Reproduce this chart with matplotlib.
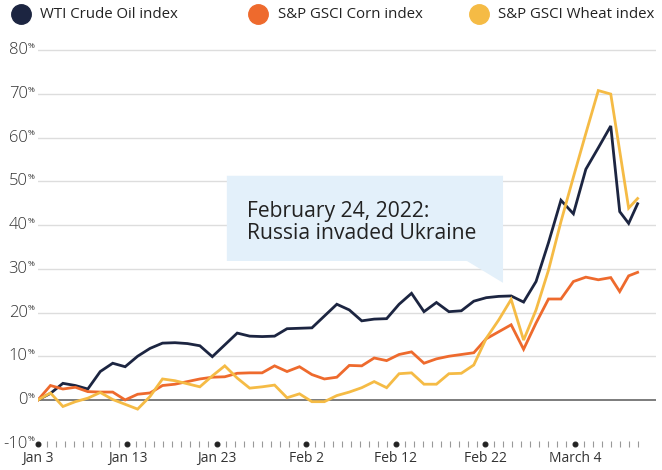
import matplotlib
matplotlib.use("Agg")
import matplotlib.pyplot as plt
import numpy as np
from matplotlib.lines import Line2D
from matplotlib.patches import Polygon
from matplotlib.ticker import FixedLocator

plt.rcParams['font.family'] = ['Open Sans', 'DejaVu Sans']

# change since Jan 3, 2022, in percent, one value per session (50 sessions)
oil = [0, 1.5, 3.8, 3.3, 2.5, 6.5, 8.4, 7.6, 10.0, 11.8,
       13.0, 13.1, 12.9, 12.4, 9.9, 12.6, 15.3, 14.6, 14.5, 14.6,
       16.3, 16.4, 16.5, 19.2, 21.9, 20.6, 18.1, 18.5, 18.6, 21.9,
       24.4, 20.2, 22.3, 20.2, 20.4, 22.6, 23.4, 23.7, 23.8, 22.4,
       27.1, 36.0, 45.7, 42.6, 52.8, 57.7, 62.7, 43.1, 40.4, 44.9]
corn = [0, 3.3, 2.5, 2.9, 1.9, 1.8, 1.8, 0.0, 1.3, 1.6,
        3.3, 3.6, 4.2, 4.8, 5.2, 5.3, 6.1, 6.2, 6.2, 7.8,
        6.5, 7.6, 5.8, 4.8, 5.2, 7.9, 7.8, 9.6, 9.0, 10.4,
        11.0, 8.4, 9.4, 10.0, 10.4, 10.8, 14.0, 15.6, 17.2, 11.6,
        17.6, 23.1, 23.1, 27.1, 28.1, 27.5, 28.0, 24.8, 28.4, 29.2]
wheat = [0, 1.6, -1.5, -0.4, 0.4, 1.7, 0.1, -1.0, -2.1, 0.8,
         4.8, 4.4, 3.7, 3.0, 5.5, 7.8, 5.0, 2.7, 3.0, 3.4,
         0.5, 1.4, -0.4, -0.4, 1.0, 1.8, 2.8, 4.2, 2.8, 6.0,
         6.2, 3.6, 3.6, 6.0, 6.1, 8.0, 14.1, 18.3, 23.0, 13.7,
         20.6, 29.7, 40.8, 51.0, 61.0, 70.8, 70.0, 57.0, 43.9, 46.1]

# days after Jan 3: the source spaces the first 47 sessions evenly,
# the last three sit one day apart
day = list(np.linspace(0, 64, 47)) + [65, 66, 67]

tick_days = [0, 10, 20, 30, 40, 50, 60]
tick_labels = ['Jan 3', 'Jan 13', 'Jan 23', 'Feb 2', 'Feb 12', 'Feb 22', 'March 4']
y_ticks = [-10, 0, 10, 20, 30, 40, 50, 60, 70, 80]

series = [('WTI Crude Oil index', oil, '#1c2541'),
          ('S&P GSCI Corn index', corn, '#ee6a2d'),
          ('S&P GSCI Wheat index', wheat, '#f5bb45')]

fig = plt.figure(figsize=(6.62, 4.70), dpi=100)
ax = fig.add_axes([38 / 662, 22 / 470, 617.5 / 662, 402 / 470])
ax.set_xlim(0, 69)
ax.set_ylim(-11, 81)

for s in ['top', 'right', 'left']:
    ax.spines[s].set_visible(False)
ax.spines['bottom'].set_position(('data', -10))
ax.spines['bottom'].set_visible(False)

# grid lines
for v in y_ticks[2:]:
    ax.axhline(v, color='#dddddd', lw=1, zorder=1)
ax.axhline(0, color='#666666', lw=1.2, zorder=2)

# callout
box = Polygon([(21.1, 51.3), (51.96, 51.3), (51.96, 26.8), (47.93, 31.8), (21.1, 31.8)],
              closed=True, facecolor='#e3f0fa', edgecolor='none', zorder=2)
ax.add_patch(box)
ax.text(23.4, 40.6, 'February 24, 2022:\nRussia invaded Ukraine', fontsize=15.2,
        color='#222222', ha='left', va='center', linespacing=1.05, zorder=3)

for name, vals, col in series:
    ax.plot(day, vals, color=col, lw=2, solid_joinstyle='miter', zorder=4)

# x axis: dots at labelled days, small ticks every day
ax.set_xticks(tick_days)
ax.set_xticklabels(tick_labels, fontsize=10, color='#333333')
ax.xaxis.set_minor_locator(FixedLocator(range(0, 68)))
ax.tick_params(axis='x', which='minor', direction='inout', length=5, width=0.8, color='#999999')
ax.tick_params(axis='x', which='major', pad=1.5)
for t in ax.xaxis.get_major_ticks():
    t.tick1line.set_marker('o')
    t.tick1line.set_markersize(3.5)
    t.tick1line.set_markerfacecolor('#222222')
    t.tick1line.set_markeredgecolor('#222222')

# y labels with small raised percent sign
ax.set_yticks([])
for v in y_ticks:
    ax.text(-0.017, v, str(v), transform=ax.get_yaxis_transform(), fontsize=12,
            color='#333333', ha='right', va='center', fontweight='light')
    ax.text(-0.016, v + 0.9, '%', transform=ax.get_yaxis_transform(), fontsize=6,
            color='#333333', ha='left', va='center')

# legend
leg_x = [(21, 40), (258, 278), (479, 498)]
for (cx, tx), (name, vals, col) in zip(leg_x, series):
    fig.add_artist(Line2D([cx / 662], [1 - 14 / 470], marker='o', markersize=14,
                          color=col, transform=fig.transFigure))
    fig.text(tx / 662, 1 - 14 / 470, name, fontsize=10.8, color='#222222',
             ha='left', va='center')

fig.savefig('out.png', dpi=100)
